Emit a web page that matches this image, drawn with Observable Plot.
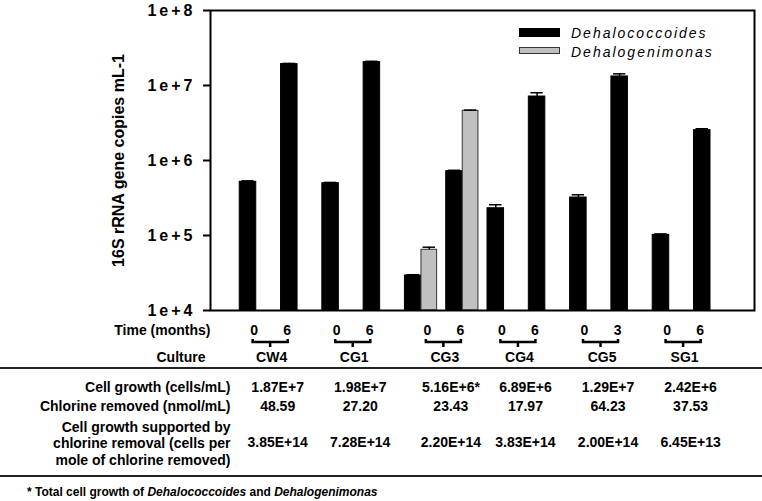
<!DOCTYPE html>
<html><head><meta charset="utf-8">
<script src="https://cdn.jsdelivr.net/npm/d3@7"></script>
<script src="https://cdn.jsdelivr.net/npm/@observablehq/plot@0.6"></script>
<style>
body{margin:0;background:#fff;font-family:"Liberation Sans",Arial,sans-serif;}
#wrap{position:relative;width:762px;height:501px;overflow:hidden;}
#wrap svg{position:absolute;left:0;top:0;}
.sw{position:absolute;box-sizing:border-box;}
.lg{position:absolute;font-style:italic;font-size:14px;letter-spacing:2px;line-height:16px;color:#000;white-space:nowrap;}
.rule{position:absolute;left:0;width:762px;height:2px;background:#222;}
.foot{position:absolute;left:27px;top:484px;font-size:12px;font-weight:bold;line-height:16px;white-space:nowrap;}
</style></head><body><div id="wrap"></div>
<script>
// ---- data ----
const cultures = ["CW4", "CG1", "CG3", "CG4", "CG5", "SG1"];
const timeLabels = [["0", "6"], ["0", "6"], ["0", "6"], ["0", "6"], ["0", "3"], ["0", "6"]];
const species = ["Dehalococcoides", "Dehalogenimonas"];
// Dehalococcoides 16S copies/mL at start and end, with error-bar tops
const dhcStart    = [5.2e5, 4.98e5, 2.93e4, 2.31e5, 3.21e5, 1.02e5];
const dhcStartErr = [5.35e5, 5.1e5, 3.0e4, 2.57e5, 3.49e5, 1.05e5];
const dhcEnd      = [1.93e7, 2.05e7, 7.2e5, 7.13e6, 1.32e7, 2.54e6];
const dhcEndErr   = [1.97e7, 2.1e7, 7.4e5, 8.0e6, 1.43e7, 2.65e6];
// Dehalogenimonas (only CG3)
const dhgStart    = [null, null, 6.45e4, null, null, null];
const dhgStartErr = [null, null, 6.98e4, null, null, null];
const dhgEnd      = [null, null, 4.6e6, null, null, null];
const dhgEndErr   = [null, null, 4.7e6, null, null, null];
// table rows
const cellGrowth      = ["1.87E+7", "1.98E+7", "5.16E+6*", "6.89E+6", "1.29E+7", "2.42E+6"];
const chlorineRemoved = ["48.59", "27.20", "23.43", "17.97", "64.23", "37.53"];
const growthPerMole   = ["3.85E+14", "7.28E+14", "2.20E+14", "3.83E+14", "2.00E+14", "6.45E+13"];
const rowLabels = ["Cell growth (cells/mL)", "Chlorine removed (nmol/mL)",
  "Cell growth supported by\nchlorine removal (cells per\nmole of chlorine removed)"];
const yTicks = [1e4, 1e5, 1e6, 1e7, 1e8];
const yLabel = "16S rRNA gene copies mL-1";
const footnote = ["* Total cell growth of ", "Dehalococcoides", " and ", "Dehalogenimonas"];

// ---- build records ----
const bars = [];
cultures.forEach((c, i) => {
  [[dhcStart, dhcStartErr, dhgStart, dhgStartErr], [dhcEnd, dhcEndErr, dhgEnd, dhgEndErr]].forEach(([v, e, gv, ge], j) => {
    const slot = 2 * i + j;
    bars.push({culture: c, species: species[0], x1: slot - 0.2, x2: slot + 0.2, value: v[i], err: e[i]});
    if (gv[i] != null) bars.push({culture: c, species: species[1], x1: slot + 0.2, x2: slot + 0.58, value: gv[i], err: ge[i]});
  });
});
bars.forEach(b => b.mid = (b.x1 + b.x2) / 2);
const groups = cultures.map((c, i) => ({
  culture: c,
  center: d3.mean(bars.filter(b => b.culture === c), b => b.mid),
  cell: cellGrowth[i], chl: chlorineRemoved[i], per: growthPerMole[i]
}));
const timeRecs = groups.flatMap((g, i) => [
  {x: g.center - 0.4, t: timeLabels[i][0]},
  {x: g.center + 0.4, t: timeLabels[i][1]}
]);

const F = "Liberation Sans, Arial, sans-serif";
const txt = {fontSize: 14, fontWeight: "bold", fill: "black", frameAnchor: "bottom", lineAnchor: "middle", textAnchor: "middle"};
const rowTxt = {...txt, frameAnchor: "bottom-left", textAnchor: "end"};

const plot = Plot.plot({
  width: 762, height: 501,
  marginLeft: 210, marginRight: 8, marginTop: 10, marginBottom: 191,
  style: {fontFamily: F, background: "white", color: "black"},
  x: {type: "linear", domain: [-0.908, 12.265], axis: null},
  y: {type: "log", domain: [1e4, 1e8]},
  marks: [
    Plot.rectY(bars, {x1: "x1", x2: "x2", y1: 1e4, y2: "value",
      fill: d => d.species === species[0] ? "#000000" : "#c0c0c0",
      stroke: d => d.species === species[0] ? "#000000" : "#333333", strokeWidth: 1}),
    Plot.ruleX(bars, {x: "mid", y1: "value", y2: "err", stroke: "black", strokeWidth: 1.5}),
    Plot.ruleY(bars, {y: "err", x1: d => d.mid - 0.15, x2: d => d.mid + 0.15, stroke: "black", strokeWidth: 1.5}),
    Plot.frame({stroke: "black", strokeWidth: 2}),
    Plot.axisY({ticks: yTicks, tickFormat: d3.format(".0e"), tickSize: 7, tickPadding: 8,
      strokeWidth: 2, fontSize: 16, fontWeight: "bold", label: null}),
    Plot.text([yLabel], {frameAnchor: "left", textAnchor: "middle", lineAnchor: "middle", rotate: -90, dx: -92, fontSize: 16, fontWeight: "bold"}),
    // time row
    Plot.text(["Time (months)"], {...rowTxt, dx: 0, dy: 20}),
    Plot.text(timeRecs, {...txt, x: "x", text: "t", dx: 2, dy: 20}),
    // culture row
    Plot.text(["Culture"], {...rowTxt, dx: -5, dy: 47}),
    Plot.text(groups, {...txt, x: "center", text: "culture", dx: 3, dy: 47}),
    // table rows
    Plot.text([rowLabels[0]], {...rowTxt, dx: 20, dy: 77}),
    Plot.text(groups, {...txt, x: "center", text: "cell", dx: 9, dy: 77}),
    Plot.text([rowLabels[1]], {...rowTxt, dx: 20, dy: 96}),
    Plot.text(groups, {...txt, x: "center", text: "chl", dx: 9, dy: 96}),
    Plot.text([rowLabels[2]], {...rowTxt, dx: 20, dy: 132.5, lineHeight: 1.18}),
    Plot.text(groups, {...txt, x: "center", text: "per", dx: 9, dy: 132.5})
  ]
});

// letter-spaced tick labels
d3.select(plot).selectAll('g[aria-label="y-axis tick label"] text').style("letter-spacing", "3px");

// brackets under the time labels, positioned with the plot's x scale
const xs = plot.scale("x");
const bottom = 501 - 191;
const gB = d3.select(plot).append("g").attr("fill", "none").attr("stroke", "black").attr("stroke-width", 2.5);
groups.forEach(g => {
  const a = xs.apply(g.center - 0.4) + 1, b = xs.apply(g.center + 0.4) + 3, c = xs.apply(g.center) + 2;
  gB.append("path").attr("d", `M${a},${bottom + 29}V${bottom + 32}H${b}V${bottom + 29}M${c},${bottom + 32}V${bottom + 37}`);
});

const wrap = document.getElementById("wrap");
wrap.appendChild(plot);

// horizontal table rules
[367, 475].forEach(t => {
  const d = document.createElement("div"); d.className = "rule"; d.style.top = t + "px"; wrap.appendChild(d);
});

// legend
const lgItems = [
  {name: species[0], fill: "#000", border: "none", top: 28, h: 9, ty: 25},
  {name: species[1], fill: "#c0c0c0", border: "1px solid #333", top: 46.5, h: 7.5, ty: 43.5}
];
lgItems.forEach(it => {
  const s = document.createElement("div"); s.className = "sw";
  Object.assign(s.style, {left: "519px", top: it.top + "px", width: "41px", height: it.h + "px", background: it.fill, border: it.border});
  wrap.appendChild(s);
  const t = document.createElement("div"); t.className = "lg";
  Object.assign(t.style, {left: "571px", top: it.ty + "px"}); t.textContent = it.name;
  wrap.appendChild(t);
});

// footnote
const fn = document.createElement("div"); fn.className = "foot";
footnote.forEach((part, k) => {
  const sp = document.createElement("span"); sp.textContent = part;
  if (k % 2 === 1) sp.style.fontStyle = "italic";
  fn.appendChild(sp);
});
wrap.appendChild(fn);
</script></body></html>
